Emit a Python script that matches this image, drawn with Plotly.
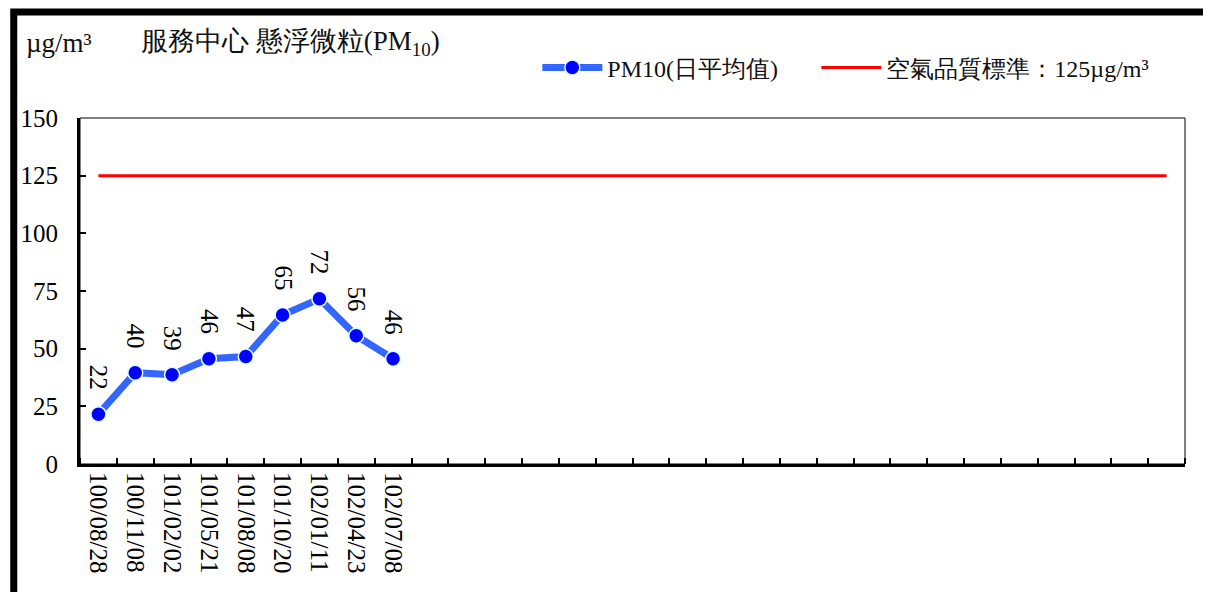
import plotly.graph_objects as go

# ---- data ----
dates = ["100/08/28", "100/11/08", "101/02/02", "101/05/21", "101/08/08",
         "101/10/20", "102/01/11", "102/04/23", "102/07/08"]
pm10_values = [21.6, 39.6, 38.7, 45.6, 46.6, 64.6, 71.6, 55.6, 45.6]
n_slots = 30
standard_value = 125
title_text = "服務中心 懸浮微粒(PM<sub>10</sub>)"
unit_text = "µg/m³"
pm10_name = "PM10(日平均值)"
standard_name = "空氣品質標準：125µg/m³"
y_ticks = [0, 25, 50, 75, 100, 125, 150]

# page geometry (the page body has an 8px margin)
OFF = 8
W, H = 1211 - OFF, 592 - OFF
PL, PR, PT, PB = 76, 1185, 118, 464          # plot area in page pixels
L, T = PL - OFF, PT - OFF
R = W + OFF - PR
B = H + OFF - PB

def px_x(p):
    return (p - PL) / (PR - PL)

def px_y(p):
    return (PB - p) / (PB - PT)

FONT = "Liberation Serif"

slot_idx = list(range(n_slots))
pm_idx = list(range(len(dates)))
tick_text = dates + [""] * (n_slots - len(dates))

fig = go.Figure()
fig.add_trace(go.Scatter(
    x=pm_idx, y=pm10_values, mode="lines+markers", name=pm10_name,
    line=dict(color="#3366FF", width=7),
    marker=dict(color="#0000FF", size=15, line=dict(color="#DDFFFF", width=1.5)),
    cliponaxis=False, legend="legend",
))
fig.add_trace(go.Scatter(
    x=slot_idx, y=[standard_value] * n_slots, mode="lines", name=standard_name,
    line=dict(color="#FF0000", width=3), legend="legend2",
))

for i, v in zip(pm_idx, pm10_values):
    fig.add_annotation(x=i, y=v, text=f"{round(v)}", showarrow=False,
                       textangle=90, yshift=37,
                       font=dict(family=FONT, size=25, color="black"))

fig.add_annotation(xref="paper", yref="paper", x=px_x(20), y=px_y(43),
                   xanchor="left", yanchor="middle", showarrow=False,
                   text=unit_text, font=dict(family=FONT, size=27, color="#111"))
fig.add_annotation(xref="paper", yref="paper", x=px_x(135), y=px_y(43),
                   xanchor="left", yanchor="middle", showarrow=False,
                   text=title_text, font=dict(family=FONT, size=27, color="#111"))

# plot area thin border
fig.add_shape(type="rect", xref="paper", yref="paper", x0=0, x1=1, y0=0, y1=1,
              line=dict(color="black", width=1), layer="above")
# outer frame
fig.add_shape(type="rect", xref="paper", yref="paper",
              x0=px_x(9.5), x1=px_x(1207.5), y0=px_y(640), y1=px_y(12),
              line=dict(color="black", width=7), layer="above")

legend_common = dict(orientation="h", xanchor="left", yanchor="middle",
                     font=dict(family=FONT, size=24, color="#111"),
                     bgcolor="rgba(0,0,0,0)", itemwidth=60)

fig.update_layout(
    width=W, height=H,
    margin=dict(l=L, r=R, t=T, b=B),
    paper_bgcolor="white", plot_bgcolor="white",
    font=dict(family=FONT, size=24, color="black"),
    showlegend=True,
    legend=dict(x=px_x(535), y=px_y(68), **legend_common),
    legend2=dict(x=px_x(815), y=px_y(68), **legend_common),
    xaxis=dict(range=[-0.5, n_slots - 0.5], tickmode="array", tickvals=slot_idx,
               ticktext=tick_text, tickangle=90, ticks="", showgrid=False,
               zeroline=False, showline=True, linecolor="black", linewidth=3,
               tickfont=dict(family=FONT, size=25, color="black"),
               minor=dict(tick0=-0.5, dtick=1, ticks="inside", ticklen=6,
                          tickcolor="black", tickwidth=2, showgrid=False)),
    yaxis=dict(range=[0, 150], tickmode="array", tickvals=y_ticks,
               ticks="inside", ticklen=6, tickwidth=2, tickcolor="black",
               showgrid=False, zeroline=False, showline=True, linecolor="black",
               linewidth=3, ticklabelstandoff=14,
               tickfont=dict(family=FONT, size=25, color="black")),
)

fig.write_html("out.html")
